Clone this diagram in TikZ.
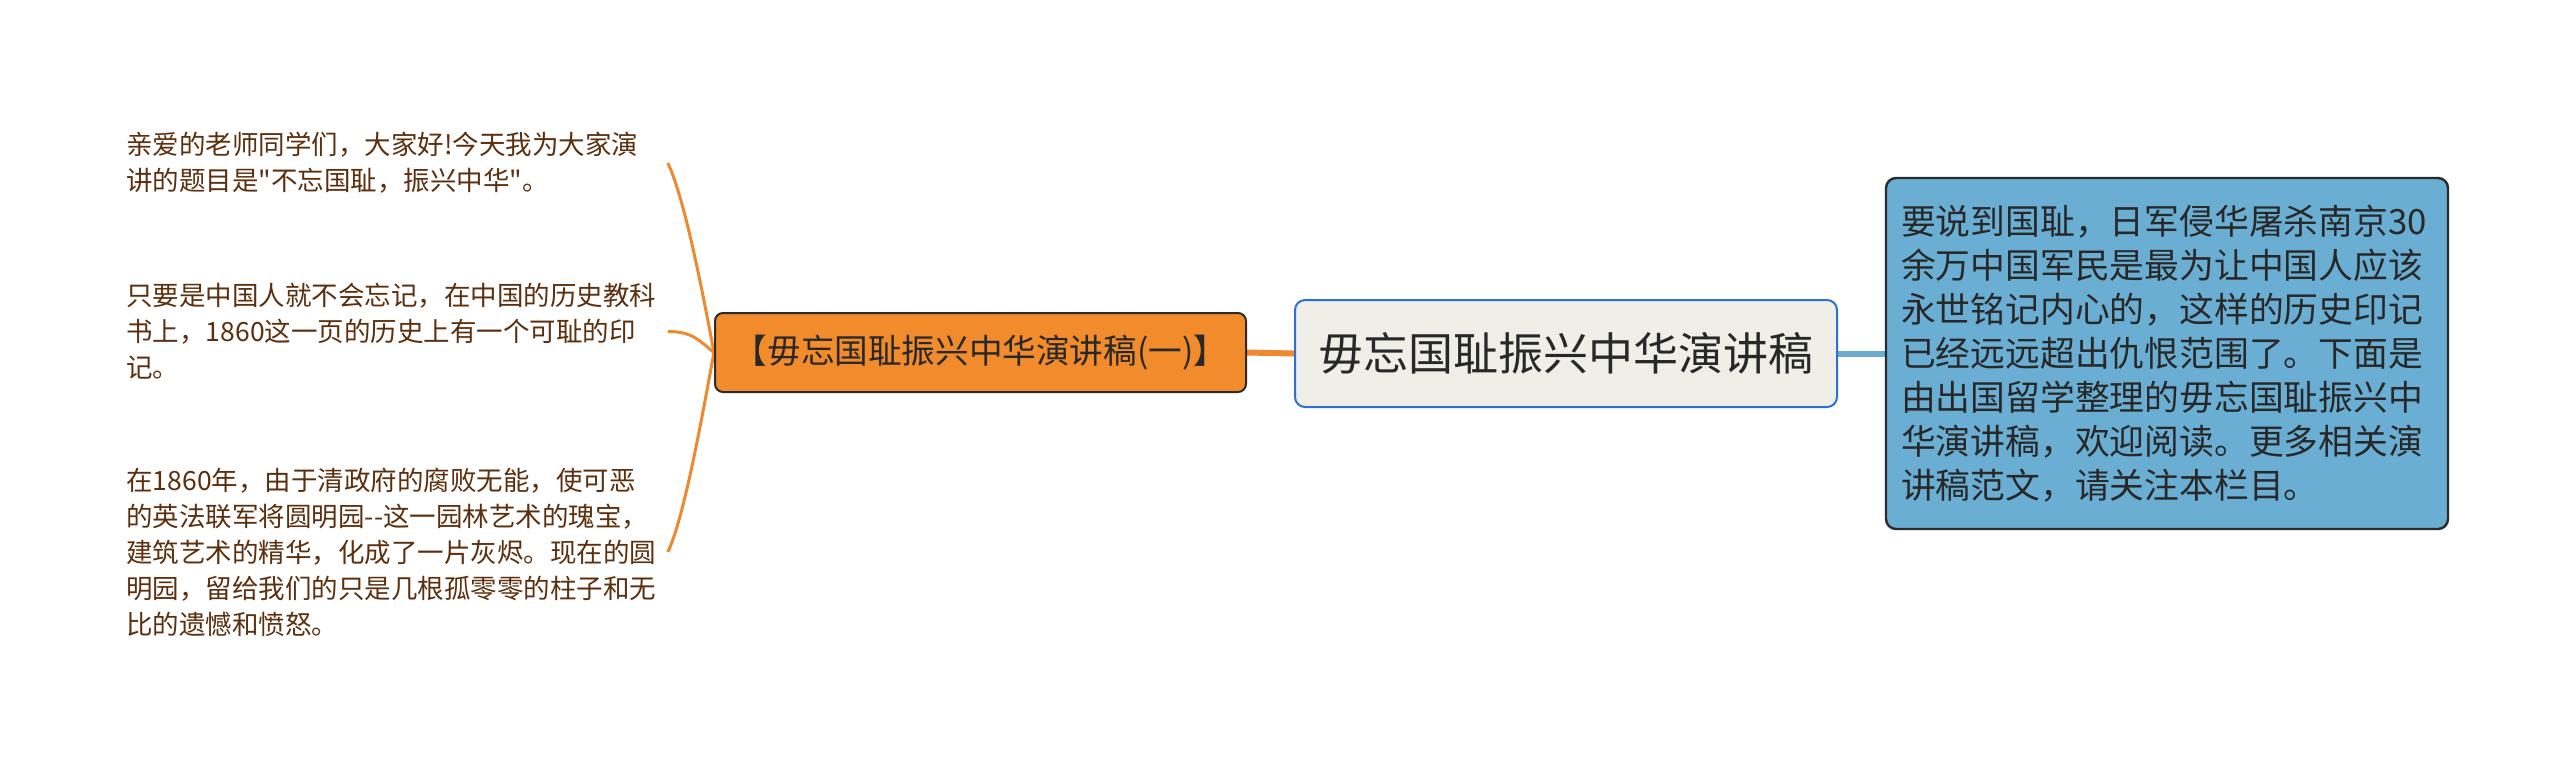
\documentclass[tikz,border=0pt]{standalone}
\usepackage{fontspec}
\setmainfont{Noto Sans CJK SC}[Ligatures=TeXOff]
\usetikzlibrary{backgrounds}
\definecolor{orangefill}{RGB}{242,139,44}
\definecolor{orangeline}{RGB}{238,137,48}
\definecolor{bluefill}{RGB}{106,175,211}
\definecolor{blueline}{RGB}{106,172,208}
\definecolor{rootfill}{RGB}{239,239,232}
\definecolor{rootborder}{RGB}{47,111,209}
\definecolor{leaftext}{RGB}{92,48,14}
\definecolor{darkborder}{RGB}{43,43,43}
\definecolor{darktext}{RGB}{40,40,40}
\tikzset{
  rootbox/.style={draw=rootborder, line width=1pt, fill=rootfill, rounded corners=5pt,
    minimum width=271pt, minimum height=53.5pt, inner sep=0pt, text=darktext,
    font=\fontsize{22.5}{26}\selectfont},
  subbox/.style={draw=darkborder, line width=1pt, fill=orangefill, rounded corners=4pt,
    minimum width=265.5pt, minimum height=39.5pt, inner sep=0pt, text=darktext,
    font=\fontsize{16.8}{20}\selectfont},
  notebox/.style={draw=darkborder, line width=1.2pt, fill=bluefill, rounded corners=5pt,
    minimum width=281pt, minimum height=175.5pt, text width=266pt, inner xsep=7.5pt,
    align=left, text=darktext, font=\fontsize{17.4}{22}\selectfont},
  leaf/.style={text width=270.5pt, inner sep=0pt, align=left, text=leaftext,
    font=\fontsize{13.25}{18}\selectfont},
  leafline/.style={draw=orangeline, line width=1.5pt},
  sublink/.style={draw=orangeline, line width=3pt},
  notelink/.style={draw=blueline, line width=3pt}
}
\begin{document}
\begin{tikzpicture}[x=0.5pt,y=-0.5pt]
\useasboundingbox (0,0) rectangle (2560,757);
\node[rootbox] (root) at (1566,353.5) {毋忘国耻振兴中华演讲稿};
\node[subbox] (sub) at (980.5,352.5) {【毋忘国耻振兴中华演讲稿(一)】};
\node[notebox] (note) at (2167,353.5) {要说到国耻，日军侵华屠杀南京30\\余万中国军民是最为让中国人应该\\永世铭记内心的，这样的历史印记\\已经远远超出仇恨范围了。下面是\\由出国留学整理的毋忘国耻振兴中\\华演讲稿，欢迎阅读。更多相关演\\讲稿范文，请关注本栏目。};
\node[leaf, anchor=west] (t1) at (126,163) {亲爱的老师同学们，大家好!今天我为大家演\\讲的题目是"不忘国耻，振兴中华"。};
\node[leaf, anchor=west] (t2) at (126,331.5) {只要是中国人就不会忘记，在中国的历史教科\\书上，1860这一页的历史上有一个可耻的印\\记。};
\node[leaf, anchor=west] (t3) at (126,552) {在1860年，由于清政府的腐败无能，使可恶\\的英法联军将圆明园--这一园林艺术的瑰宝，\\建筑艺术的精华，化成了一片灰烬。现在的圆\\明园，留给我们的只是几根孤零零的柱子和无\\比的遗憾和愤怒。};
\begin{scope}[on background layer]
\fill[white] (0,0) rectangle (2560,757);
\draw[sublink] (sub.east) -- (root.west);
\draw[notelink] (root.east) -- (note.west);
\draw[leafline] (sub.west) .. controls +(-10,-53) and +(17,35) .. (t1.east);
\draw[leafline] (sub.west) .. controls +(-15,-12) and +(25,0) .. (t2.east);
\draw[leafline] (sub.west) .. controls +(-10,53) and +(17,-35) .. (t3.east);
\end{scope}
\end{tikzpicture}
\end{document}
